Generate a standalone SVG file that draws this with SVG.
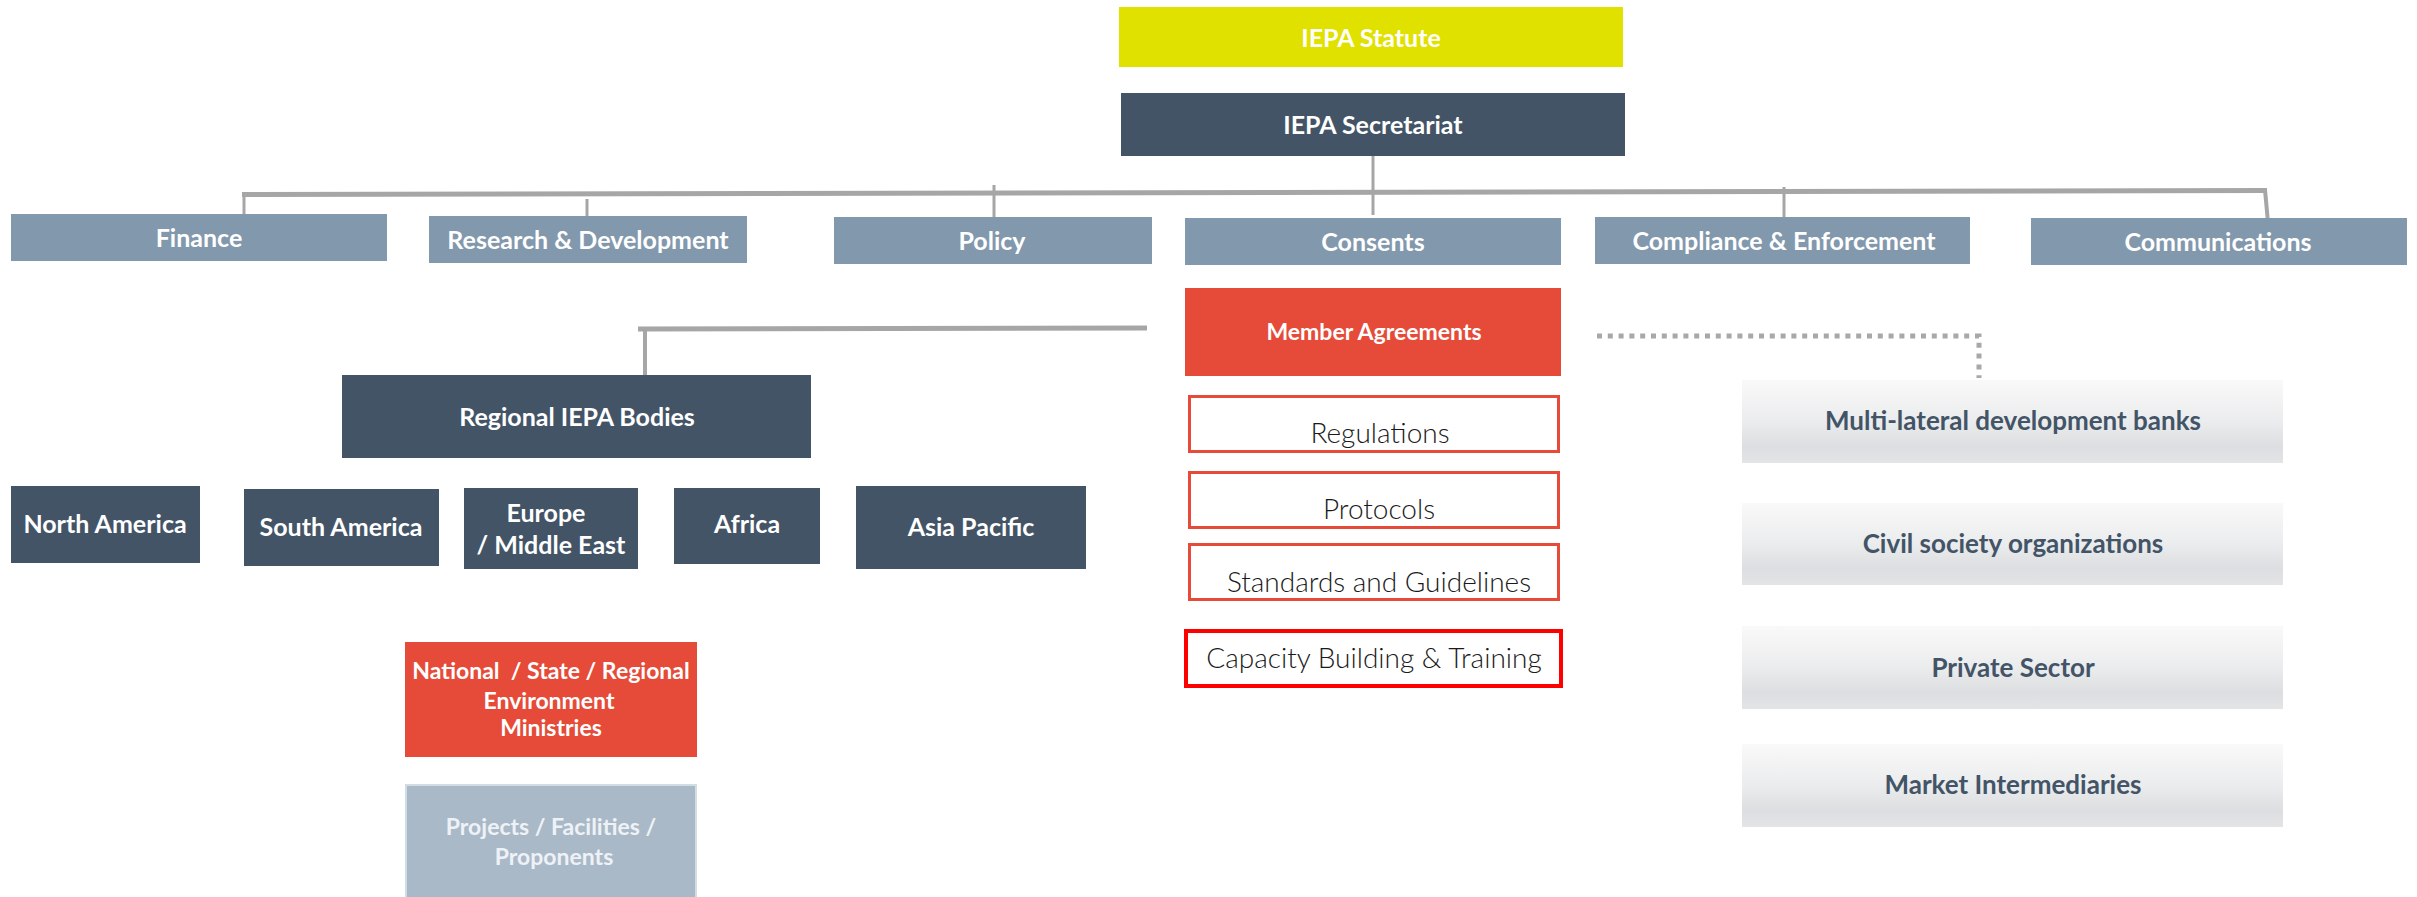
<svg xmlns="http://www.w3.org/2000/svg" width="2417" height="897" viewBox="0 0 2417 897">
<defs>
<linearGradient id="grayGrad" x1="0" y1="0" x2="0" y2="1">
<stop offset="0" stop-color="#f9f9f9"/>
<stop offset="0.5" stop-color="#ebeced"/>
<stop offset="0.8" stop-color="#dcdee1"/>
<stop offset="1" stop-color="#e3e4e6"/>
</linearGradient>
<style>
.t{font-family:Lato,"Liberation Sans",sans-serif;text-anchor:middle}
.wb{fill:#ffffff;font-weight:700;font-size:25px}
.lt{fill:#1a1a1a;font-weight:300;font-size:28px}
.gb{fill:#435467;font-weight:700;font-size:26px}
.dark{fill:#435467}
.steel{fill:#8298ad}
.red{fill:#e54b38}
.outline{fill:#ffffff;stroke:#e54b38;stroke-width:3}
.gray{fill:url(#grayGrad)}
.conn{stroke:#a6a6a6;fill:none}
</style>
</defs>
<rect width="2417" height="897" fill="#ffffff"/>

<g id="connectors">
<line class="conn" x1="242" y1="194.5" x2="2267" y2="190.5" stroke-width="5"/>
<line class="conn" x1="244" y1="194" x2="244" y2="214" stroke-width="3"/>
<line class="conn" x1="587" y1="199" x2="587" y2="216" stroke-width="3"/>
<line class="conn" x1="994" y1="185" x2="994" y2="217" stroke-width="3"/>
<line class="conn" x1="1373" y1="156" x2="1373" y2="215" stroke-width="3"/>
<line class="conn" x1="1784" y1="187" x2="1784" y2="218" stroke-width="3"/>
<line class="conn" x1="2265" y1="190" x2="2269" y2="233" stroke-width="4"/>
<line class="conn" x1="638" y1="329" x2="1147" y2="328" stroke-width="5"/>
<line class="conn" x1="645" y1="329" x2="645" y2="375" stroke-width="4"/>
<path d="M1597,336 H1979 V378" fill="none" stroke="#a8a8a8" stroke-width="5" stroke-dasharray="5 5.8"/>
</g>

<g id="iepa-statute">
<rect x="1119" y="7" width="504" height="60" fill="#e1e100"/>
<text class="t wb" x="1371" y="47">IEPA Statute</text>
</g>
<g id="iepa-secretariat">
<rect class="dark" x="1121" y="93" width="504" height="63"/>
<text class="t wb" x="1373" y="134">IEPA Secretariat</text>
</g>

<g id="finance">
<rect class="steel" x="11" y="214" width="376" height="47"/>
<text class="t wb" x="199" y="247">Finance</text>
</g>
<g id="research-development">
<rect class="steel" x="429" y="216" width="318" height="47"/>
<text class="t wb" x="588" y="249">Research &amp; Development</text>
</g>
<g id="policy">
<rect class="steel" x="834" y="217" width="318" height="47"/>
<text class="t wb" x="992" y="250">Policy</text>
</g>
<g id="consents">
<rect class="steel" x="1185" y="218" width="376" height="47"/>
<text class="t wb" x="1373" y="251">Consents</text>
</g>
<g id="compliance-enforcement">
<rect class="steel" x="1595" y="217" width="375" height="47"/>
<text class="t wb" x="1784" y="250">Compliance &amp; Enforcement</text>
</g>
<g id="communications">
<rect class="steel" x="2031" y="218" width="376" height="47"/>
<text class="t wb" x="2218" y="251">Communications</text>
</g>

<g id="member-agreements">
<rect class="red" x="1185" y="288" width="376" height="88"/>
<text class="t wb" x="1374" y="340" style="font-size:23px">Member Agreements</text>
</g>
<g id="regulations">
<rect class="outline" x="1189.5" y="396.5" width="369" height="55"/>
<text class="t lt" x="1380" y="443">Regulations</text>
</g>
<g id="protocols">
<rect class="outline" x="1189.5" y="472.5" width="369" height="55"/>
<text class="t lt" x="1379" y="519">Protocols</text>
</g>
<g id="standards-guidelines">
<rect class="outline" x="1189.5" y="544.5" width="369" height="55"/>
<text class="t lt" x="1379" y="592">Standards and Guidelines</text>
</g>
<g id="capacity-building">
<rect x="1186" y="631" width="375" height="55" fill="#ffffff" stroke="#ff0000" stroke-width="4"/>
<text class="t lt" x="1374" y="668">Capacity Building &amp; Training</text>
</g>

<g id="regional-iepa-bodies">
<rect class="dark" x="342" y="375" width="469" height="83"/>
<text class="t wb" x="577" y="426">Regional IEPA Bodies</text>
</g>
<g id="north-america">
<rect class="dark" x="11" y="486" width="189" height="77"/>
<text class="t wb" x="105" y="533">North America</text>
</g>
<g id="south-america">
<rect class="dark" x="244" y="489" width="195" height="77"/>
<text class="t wb" x="341" y="536">South America</text>
</g>
<g id="europe-middle-east">
<rect class="dark" x="464" y="488" width="174" height="81"/>
<text class="t wb" x="546" y="522">Europe</text>
<text class="t wb" x="551" y="554">/ Middle East</text>
</g>
<g id="africa">
<rect class="dark" x="674" y="488" width="146" height="76"/>
<text class="t wb" x="747" y="533">Africa</text>
</g>
<g id="asia-pacific">
<rect class="dark" x="856" y="486" width="230" height="83"/>
<text class="t wb" x="971" y="536">Asia Pacific</text>
</g>

<g id="national-ministries">
<rect class="red" x="405" y="642" width="292" height="115"/>
<text class="t wb" x="551" y="679" style="font-size:23px;white-space:pre">National  / State / Regional</text>
<text class="t wb" x="549" y="709" style="font-size:23px">Environment</text>
<text class="t wb" x="551" y="736" style="font-size:23px">Ministries</text>
</g>
<g id="projects-facilities">
<rect x="406" y="785" width="290" height="114" fill="#aab9c8" stroke="#d3dbe3" stroke-width="2"/>
<text class="t wb" x="551" y="835" style="font-size:23px;fill:#eef2f6">Projects / Facilities /</text>
<text class="t wb" x="554" y="865" style="font-size:23px;fill:#eef2f6">Proponents</text>
</g>

<g id="multilateral-banks">
<rect class="gray" x="1742" y="380" width="541" height="83"/>
<text class="t gb" x="2013" y="430">Multi-lateral development banks</text>
</g>
<g id="civil-society">
<rect class="gray" x="1742" y="503" width="541" height="82"/>
<text class="t gb" x="2013" y="553">Civil society organizations</text>
</g>
<g id="private-sector">
<rect class="gray" x="1742" y="626" width="541" height="83"/>
<text class="t gb" x="2013" y="677">Private Sector</text>
</g>
<g id="market-intermediaries">
<rect class="gray" x="1742" y="744" width="541" height="83"/>
<text class="t gb" x="2013" y="794">Market Intermediaries</text>
</g>
</svg>
